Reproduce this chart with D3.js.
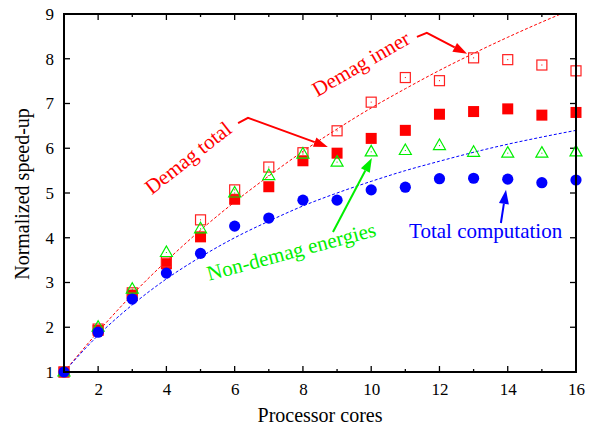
<!DOCTYPE html>
<meta charset="utf-8">
<script src="https://d3js.org/d3.v7.min.js"></script>
<style>
  body { margin: 0; background: #fff; }
  text { font-family: "Liberation Serif", "Times New Roman", serif; }
</style>
<div id="vis"></div>

<script>
  // measured speed-ups, cores 1..16
  var cores = d3.range(1, 17);
  var demagInner = [1, 1.96, 2.77, 3.46, 4.40, 5.07, 5.58, 5.90, 6.39, 7.03, 7.58, 7.51, 8.02, 7.98, 7.86, 7.73];
  var demagTotal = [1, 1.93, 2.72, 3.42, 4.02, 4.86, 5.14, 5.72, 5.89, 6.22, 6.40, 6.76, 6.82, 6.88, 6.74, 6.80];
  var nonDemag   = [1, 2.00, 2.85, 3.67, 4.20, 5.00, 5.39, 5.87, 5.69, 5.92, 5.95, 6.06, 5.91, 5.89, 5.89, 5.92];
  var totalComp  = [1, 1.89, 2.63, 3.21, 3.65, 4.26, 4.44, 4.84, 4.84, 5.07, 5.13, 5.32, 5.33, 5.31, 5.23, 5.29];

  // dashed fit curves
  var fitInner = [1, 1.90, 2.73, 3.48, 4.17, 4.80, 5.38, 5.93, 6.43, 6.90, 7.33, 7.74, 8.12, 8.48, 8.82, 9.14];
  var fitTotal = [1, 1.82, 2.50, 3.08, 3.57, 4.00, 4.37, 4.71, 5.00, 5.26, 5.50, 5.71, 5.91, 6.09, 6.25, 6.40];

  var xTicks = d3.range(1, 17);
  var xLabels = [2, 4, 6, 8, 10, 12, 14, 16];
  var yTicks = [1, 2, 3, 4, 5, 6, 7, 8, 9];

  var margin = { top: 14, right: 13, bottom: 55, left: 64 };
  var width = 589 - margin.left - margin.right;
  var height = 427 - margin.top - margin.bottom;

  var svg = d3.select('#vis')
    .append('svg')
    .attr('width', 589)
    .attr('height', 427)
    .append('g')
    .attr('transform', 'translate(' + margin.left + ',' + margin.top + ')');

  var x = d3.scaleLinear().domain([1, 16]).range([0, width]);
  var y = d3.scaleLinear().domain([1, 9]).range([height, 0]);

  svg.append('clipPath').attr('id', 'clip')
    .append('rect').attr('width', width).attr('height', height);

  // ticks, all pointing inward
  function tickLen(d) { return d % 2 == 0 ? 6 : 3; }
  var tk = svg.append('g').attr('stroke', '#000').attr('stroke-width', 1.3);
  xTicks.forEach(function(d) {
    tk.append('line').attr('x1', x(d)).attr('x2', x(d)).attr('y1', height).attr('y2', height - tickLen(d));
    tk.append('line').attr('x1', x(d)).attr('x2', x(d)).attr('y1', 0).attr('y2', tickLen(d));
  });
  yTicks.forEach(function(d) {
    tk.append('line').attr('x1', 0).attr('x2', 6).attr('y1', y(d)).attr('y2', y(d));
    tk.append('line').attr('x1', width).attr('x2', width - 6).attr('y1', y(d)).attr('y2', y(d));
  });

  svg.append('g')
    .attr('transform', 'translate(0,' + height + ')')
    .call(d3.axisBottom(x).tickValues(xLabels).tickSize(0).tickPadding(11).tickFormat(d3.format('d')))
    .call(function(g) { g.select('.domain').remove(); })
    .selectAll('text').style('font-size', '17px').attr('fill', '#000').attr('font-family', null);

  svg.append('g')
    .call(d3.axisLeft(y).tickValues(yTicks).tickSize(0).tickPadding(10).tickFormat(d3.format('d')))
    .call(function(g) { g.select('.domain').remove(); })
    .selectAll('text').style('font-size', '17px').attr('fill', '#000').attr('font-family', null);

  svg.append('text')
    .attr('text-anchor', 'middle')
    .attr('x', width / 2)
    .attr('y', height + 50)
    .style('font-size', '20px')
    .text('Processor cores');

  svg.append('text')
    .attr('text-anchor', 'middle')
    .attr('transform', 'rotate(-90)')
    .attr('x', -(y(5) + 1))
    .attr('y', -35)
    .style('font-size', '20px')
    .text('Normalized speed-up');

  // fit curves
  var fit = d3.line()
    .x(function(d, i) { return x(cores[i]); })
    .y(function(d) { return y(d); })
    .curve(d3.curveMonotoneX);

  var curves = svg.append('g').attr('clip-path', 'url(#clip)');
  curves.append('path').datum(fitInner).attr('d', fit)
    .attr('fill', 'none').attr('stroke', '#ff0000').attr('stroke-width', 1).attr('stroke-dasharray', '3,2');
  curves.append('path').datum(fitTotal).attr('d', fit)
    .attr('fill', 'none').attr('stroke', '#0000ff').attr('stroke-width', 1).attr('stroke-dasharray', '3,2');

  var s = 11;
  svg.append('g').selectAll('rect').data(demagTotal).enter().append('rect')
    .attr('x', function(d, i) { return x(cores[i]) - s / 2; })
    .attr('y', function(d) { return y(d) - s / 2; })
    .attr('width', s).attr('height', s)
    .attr('fill', '#ff0000');

  var open = svg.append('g').selectAll('g').data(demagInner).enter().append('g')
    .attr('transform', function(d, i) { return 'translate(' + x(cores[i]) + ',' + y(d) + ')'; });
  open.append('rect')
    .attr('x', -s / 2 + 0.5).attr('y', -s / 2 + 0.5).attr('width', s - 1).attr('height', s - 1)
    .attr('fill', 'none').attr('stroke', '#ff2020').attr('stroke-width', 1.2);
  open.append('rect').attr('x', -0.5).attr('y', -0.5).attr('width', 1).attr('height', 1).attr('fill', '#ff0000');

  var tri = svg.append('g').selectAll('g').data(nonDemag).enter().append('g')
    .attr('transform', function(d, i) { return 'translate(' + x(cores[i]) + ',' + y(d) + ')'; });
  tri.append('path')
    .attr('d', 'M0,-6.5L6,4L-6,4Z')
    .attr('fill', 'none').attr('stroke', '#00ee00').attr('stroke-width', 1.2);
  tri.append('rect').attr('x', -0.5).attr('y', -0.5).attr('width', 1).attr('height', 1).attr('fill', '#00cc00');

  svg.append('g').selectAll('circle').data(totalComp).enter().append('circle')
    .attr('cx', function(d, i) { return x(cores[i]); })
    .attr('cy', function(d) { return y(d); })
    .attr('r', 5.6)
    .attr('fill', '#0000ff');

  // frame
  svg.append('rect')
    .attr('width', width).attr('height', height)
    .attr('fill', 'none').attr('stroke', '#000').attr('stroke-width', 2);

  // annotations (data coordinates)
  var notes = [
    { text: 'Demag inner', color: '#ff0000', at: [9.80, 7.75], rot: -30, anchor: 'middle',
      path: [[11.34, 8.49], [11.63, 8.58], [12.81, 8.11]] },
    { text: 'Demag total', color: '#ff0000', at: [4.76, 5.66], rot: -38, anchor: 'middle',
      path: [[6.10, 6.56], [6.39, 6.68], [8.73, 6.03]] },
    { text: 'Non-demag energies', color: '#00ee00', at: [7.71, 3.54], rot: -15, anchor: 'middle',
      path: [[8.88, 4.13], [10.02, 5.78]] },
    { text: 'Total computation', color: '#0000ff', at: [11.11, 3.99], rot: 0, anchor: 'start',
      path: [[13.80, 4.33], [13.95, 5.07]] }
  ];

  notes.forEach(function(n) {
    var px = x(n.at[0]), py = y(n.at[1]);
    svg.append('text')
      .attr('transform', 'translate(' + px + ',' + py + ') rotate(' + n.rot + ')')
      .attr('text-anchor', n.anchor)
      .attr('fill', n.color)
      .style('font-size', '21px')
      .text(n.text);

    var pts = n.path.map(function(p) { return [x(p[0]), y(p[1])]; });
    var a = pts[pts.length - 2], b = pts[pts.length - 1];
    var dx = b[0] - a[0], dy = b[1] - a[1], L = Math.sqrt(dx * dx + dy * dy);
    var ux = dx / L, uy = dy / L, hl = 14, hw = 5;
    var base = [b[0] - ux * hl, b[1] - uy * hl];
    var line = pts.slice(0, -1).concat([base]);
    svg.append('path')
      .attr('d', d3.line()(line))
      .attr('fill', 'none').attr('stroke', n.color).attr('stroke-width', 2);
    svg.append('path')
      .attr('d', d3.line()([b, [base[0] - uy * hw, base[1] + ux * hw], [base[0] + uy * hw, base[1] - ux * hw]]) + 'Z')
      .attr('fill', n.color);
  });
</script>
